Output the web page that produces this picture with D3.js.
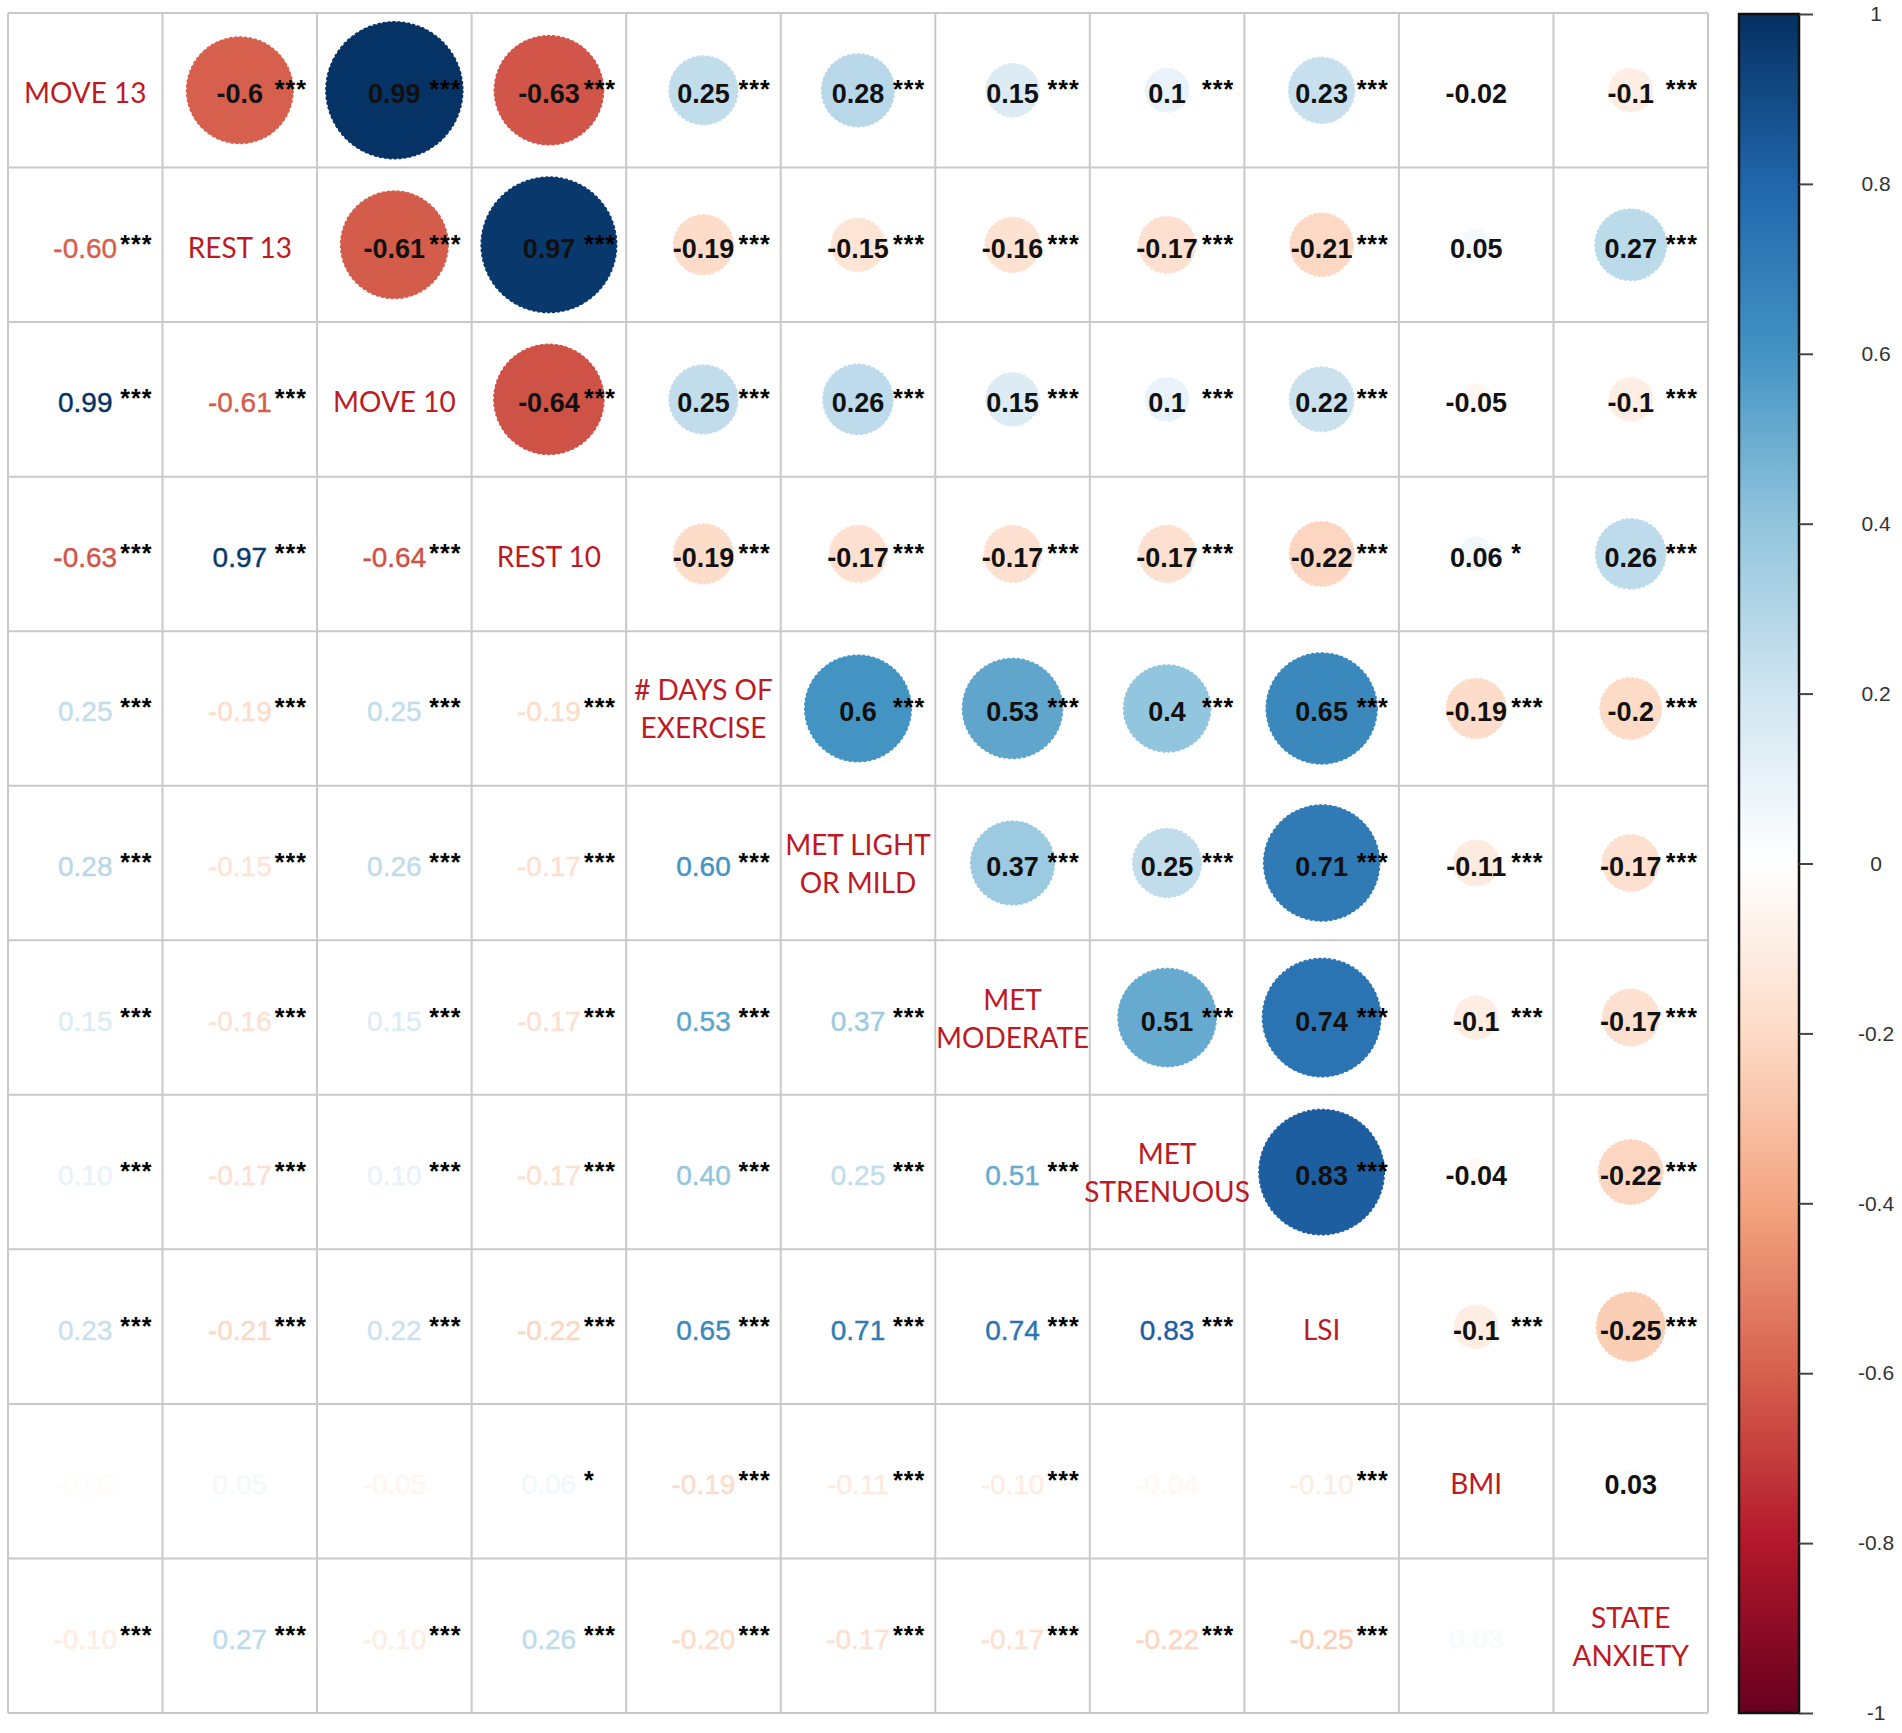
<!DOCTYPE html>
<html>
<head>
<meta charset="utf-8">
<script src="https://cdn.jsdelivr.net/npm/d3@7"></script>
<style>
  html, body { margin: 0; padding: 0; background: #fff; }
  svg { display: block; }
</style>
</head>
<body>
<svg id="chart" width="1902" height="1733"></svg>
<script>
// variable names (diagonal labels, one entry per line)
const labels = [
  ["MOVE 13"], ["REST 13"], ["MOVE 10"], ["REST 10"],
  ["# DAYS OF", "EXERCISE"], ["MET LIGHT", "OR MILD"], ["MET", "MODERATE"],
  ["MET", "STRENUOUS"], ["LSI"], ["BMI"], ["STATE", "ANXIETY"]
];

// correlation matrix, row by row
const move13 = [1, -0.60, 0.99, -0.63, 0.25, 0.28, 0.15, 0.10, 0.23, -0.02, -0.10];
const rest13 = [-0.60, 1, -0.61, 0.97, -0.19, -0.15, -0.16, -0.17, -0.21, 0.05, 0.27];
const move10 = [0.99, -0.61, 1, -0.64, 0.25, 0.26, 0.15, 0.10, 0.22, -0.05, -0.10];
const rest10 = [-0.63, 0.97, -0.64, 1, -0.19, -0.17, -0.17, -0.17, -0.22, 0.06, 0.26];
const daysEx = [0.25, -0.19, 0.25, -0.19, 1, 0.60, 0.53, 0.40, 0.65, -0.19, -0.20];
const metLight = [0.28, -0.15, 0.26, -0.17, 0.60, 1, 0.37, 0.25, 0.71, -0.11, -0.17];
const metMod = [0.15, -0.16, 0.15, -0.17, 0.53, 0.37, 1, 0.51, 0.74, -0.10, -0.17];
const metStren = [0.10, -0.17, 0.10, -0.17, 0.40, 0.25, 0.51, 1, 0.83, -0.04, -0.22];
const lsi = [0.23, -0.21, 0.22, -0.22, 0.65, 0.71, 0.74, 0.83, 1, -0.10, -0.25];
const bmi = [-0.02, 0.05, -0.05, 0.06, -0.19, -0.11, -0.10, -0.04, -0.10, 1, 0.03];
const anxiety = [-0.10, 0.27, -0.10, 0.26, -0.20, -0.17, -0.17, -0.22, -0.25, 0.03, 1];
const corr = [move13, rest13, move10, rest10, daysEx, metLight, metMod, metStren, lsi, bmi, anxiety];

// pairs that are not "***" (everything else is ***)
const sigExceptions = [[0, 9, ""], [1, 9, ""], [2, 9, ""], [3, 9, "*"], [7, 9, ""], [9, 10, ""]];

// colour bar ticks
const barTicks = [-1, -0.8, -0.6, -0.4, -0.2, 0, 0.2, 0.4, 0.6, 0.8, 1];
const palette = ["#67001F", "#B2182B", "#D6604D", "#F4A582", "#FDDBC7", "#FFFFFF",
                 "#D1E5F0", "#92C5DE", "#4393C3", "#2166AC", "#053061"];

const n = labels.length;
const gridLeft = 8, gridTop = 13, gridSize = 1700;

const svg = d3.select("#chart");

const x = d3.scaleBand().domain(d3.range(n)).range([gridLeft, gridLeft + gridSize]).padding(0);
const y = d3.scaleBand().domain(d3.range(n)).range([gridTop, gridTop + gridSize]).padding(0);
const cell = x.bandwidth();

const color = d3.scaleLinear()
  .domain(d3.range(palette.length).map(i => -1 + 2 * i / (palette.length - 1)))
  .range(palette);

const radius = d3.scaleSqrt().domain([0, 1]).range([0, cell * 0.445]);

function sigOf(i, j) {
  for (const [a, b, s] of sigExceptions) {
    if ((a === i && b === j) || (a === j && b === i)) return s;
  }
  return "***";
}

const cells = [];
for (let i = 0; i < n; i++) {
  for (let j = 0; j < n; j++) {
    cells.push({ i, j, v: corr[i][j], sig: sigOf(i, j) });
  }
}

// grid
const grid = svg.append("g");
grid.selectAll("line.v").data(d3.range(n + 1)).join("line")
  .attr("x1", d => gridLeft + d * cell).attr("x2", d => gridLeft + d * cell)
  .attr("y1", gridTop).attr("y2", gridTop + gridSize)
  .attr("stroke", "#c9c9c9").attr("stroke-width", 2);
grid.selectAll("line.h").data(d3.range(n + 1)).join("line")
  .attr("y1", d => gridTop + d * cell).attr("y2", d => gridTop + d * cell)
  .attr("x1", gridLeft).attr("x2", gridLeft + gridSize)
  .attr("stroke", "#c9c9c9").attr("stroke-width", 2);

const upper = cells.filter(d => d.j > d.i);
const lower = cells.filter(d => d.j < d.i);
const diag = cells.filter(d => d.j === d.i);

// upper triangle: circles + bold black numbers
svg.append("g").selectAll("circle").data(upper).join("circle")
  .attr("cx", d => x(d.j) + cell / 2)
  .attr("cy", d => y(d.i) + cell / 2)
  .attr("r", d => radius(Math.abs(d.v)))
  .attr("fill", d => color(d.v))
  .attr("stroke", d => color(d.v))
  .attr("stroke-width", 1.5)
  .attr("stroke-dasharray", "3,2");

svg.append("g").selectAll("text").data(upper).join("text")
  .attr("x", d => x(d.j) + cell / 2)
  .attr("y", d => y(d.i) + cell / 2 + 13)
  .attr("text-anchor", "middle")
  .attr("font-family", "'Liberation Sans', Arial, sans-serif")
  .attr("font-weight", "bold")
  .attr("font-size", 27)
  .attr("fill", "#111")
  .text(d => String(+d.v.toFixed(2)));

// lower triangle: coloured numbers
svg.append("g").selectAll("text").data(lower).join("text")
  .attr("x", d => x(d.j) + cell / 2)
  .attr("y", d => y(d.i) + cell / 2 + 13)
  .attr("text-anchor", "middle")
  .attr("font-family", "'Liberation Sans', Arial, sans-serif")
  .attr("font-size", 28)
  .attr("stroke", d => color(d.v))
  .attr("stroke-width", 0.4)
  .attr("fill", d => color(d.v))
  .text(d => d.v.toFixed(2));

// significance stars
svg.append("g").selectAll("text").data(upper.concat(lower).filter(d => d.sig)).join("text")
  .attr("x", d => x(d.j) + cell / 2 + 35)
  .attr("y", d => y(d.i) + cell / 2 + 8)
  .attr("font-family", "'Liberation Sans', Arial, sans-serif")
  .attr("font-weight", "bold")
  .attr("font-size", 25)
  .attr("letter-spacing", 1)
  .attr("fill", "#000")
  .text(d => d.sig);

// diagonal labels
const diagG = svg.append("g").selectAll("text").data(diag).join("text")
  .attr("text-anchor", "middle")
  .attr("font-family", "Lato, 'Open Sans', sans-serif")
  .attr("font-size", 28)
  .attr("fill", "#bd1a24");
diagG.each(function(d) {
  const lines = labels[d.i];
  const cx = x(d.j) + cell / 2, cy = y(d.i) + cell / 2;
  const t = d3.select(this);
  lines.forEach((ln, k) => {
    const off = lines.length === 1 ? 3 : (k === 0 ? -18 : 20);
    t.append("tspan").attr("x", cx).attr("y", cy + off + 10).text(ln);
  });
});

// colour bar
const barX = 1739, barW = 60, barTop = 14, barBottom = 1713;
const by = d3.scaleLinear().domain([-1, 1]).range([barBottom, barTop]);

const defs = svg.append("defs");
const grad = defs.append("linearGradient").attr("id", "cbar")
  .attr("x1", 0).attr("y1", 1).attr("x2", 0).attr("y2", 0);
grad.selectAll("stop").data(palette).join("stop")
  .attr("offset", (d, i) => i / (palette.length - 1))
  .attr("stop-color", d => d);

svg.append("rect")
  .attr("x", barX).attr("y", barTop)
  .attr("width", barW).attr("height", barBottom - barTop)
  .attr("fill", "url(#cbar)")
  .attr("stroke", "#111").attr("stroke-width", 2.5);

const axis = svg.append("g")
  .attr("transform", `translate(${barX + barW},0)`)
  .call(d3.axisRight(by).tickValues(barTicks).tickSize(14).tickFormat(d => String(d)));
axis.select(".domain").remove();
axis.selectAll(".tick line").attr("stroke", "#444").attr("stroke-width", 2);
axis.selectAll(".tick text")
  .attr("x", 77)
  .attr("text-anchor", "middle")
  .attr("font-family", "'Liberation Sans', Arial, sans-serif")
  .attr("font-size", 21)
  .attr("fill", "#333");
</script>
</body>
</html>
